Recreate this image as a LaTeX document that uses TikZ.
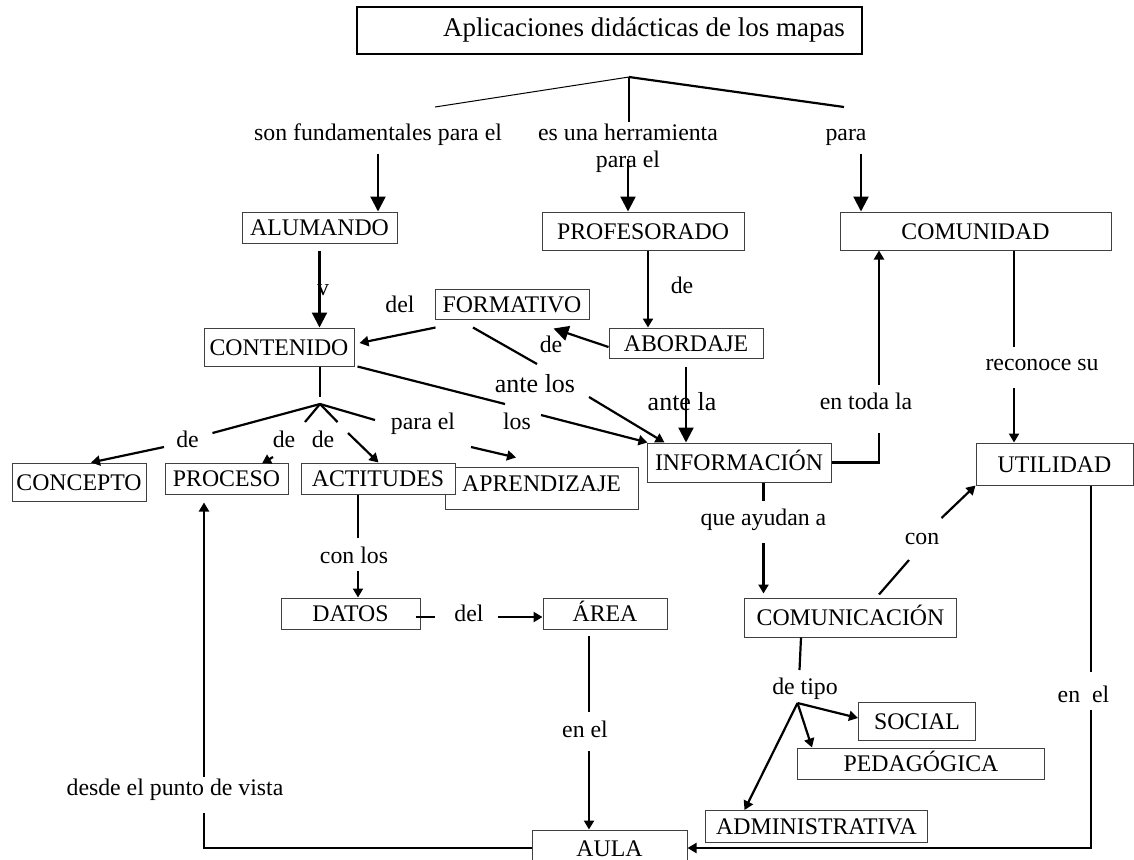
\documentclass[tikz,border=0pt]{standalone}
\usepackage{fontspec}
\setmainfont{Liberation Serif}
\usetikzlibrary{arrows.meta}

\begin{document}
        \begin{tikzpicture}[
            x=0.5pt, y=-0.5pt,
            font=\fontsize{11.9}{13.5}\selectfont,
            caja/.style 2 args={draw=black!75, line width=0.5pt, fill=white, inner sep=0pt,
                text height=8pt, text depth=0pt,
                minimum width=#1*0.5pt, minimum height=#2*0.5pt},
            etiqueta/.style={inner sep=1pt, text height=8pt, text depth=2.5pt},
            grande/.style={font=\fontsize{13}{15}\selectfont},
            linea/.style={line width=1.1pt},
            flecha/.style={linea, -{Triangle[length=4.5pt, width=5pt]}},
            flechag/.style={linea, -{Triangle[length=7.5pt, width=7.5pt]}}
        ]
            \useasboundingbox (0,0) rectangle (1134,859);

            \node[caja={505}{47}, draw=black, line width=1pt] (titulo) at (609.5,30.5) {};
            \node[font=\fontsize{13.5}{16}\selectfont] (tituloTxt) at (644,30) {Aplicaciones didácticas de los mapas};

            \node[caja={155}{31}] (alumnado) at (319.5,227.5) {ALUMANDO};
            \node[caja={202}{38}] (profesorado) at (643,231) {PROFESORADO};
            \node[caja={271}{38}] (comunidad) at (975.5,231) {COMUNIDAD};
            \node[caja={154}{30}] (formativo) at (512,304) {FORMATIVO};
            \node[caja={150}{38}] (contenido) at (279,347) {CONTENIDO};
            \node[caja={154}{30}] (abordaje) at (686,343) {ABORDAJE};
            \node[caja={184}{39}] (informacion) at (739,462.5) {INFORMACIÓN};
            \node[caja={157}{42}] (utilidad) at (1054.5,464) {UTILIDAD};
            \node[caja={134}{38}] (concepto) at (79,482) {CONCEPTO};
            \node[caja={123}{31}] (proceso) at (226.5,478.5) {PROCESO};
            \node[caja={193}{42}, text depth=5pt] (aprendizaje) at (541.5,488) {APRENDIZAJE};
            \node[caja={154}{31}] (actitudes) at (378,478.5) {ACTITUDES};
            \node[caja={139}{31}] (datos) at (350.5,613.5) {DATOS};
            \node[caja={124}{31}] (area) at (605,613.5) {ÁREA};
            \node[caja={212}{39}] (comunicacion) at (850.5,617.5) {COMUNICACIÓN};
            \node[caja={117}{38}] (social) at (917,721) {SOCIAL};
            \node[caja={247}{31}] (pedagogica) at (921,763.5) {PEDAGÓGICA};
            \node[caja={222}{32}] (administrativa) at (816.5,826.5) {ADMINISTRATIVA};
            \node[caja={155}{36}] (aula) at (609.5,848) {AULA};

            \node[etiqueta] (lSon) at (378,135) {son fundamentales para el};
            \node[inner sep=1pt, align=center] (lHerr) at (628,148.5) {es una herramienta\\para el};
            \node[etiqueta] (lPara) at (846,135) {para};
            \node[etiqueta] (lY) at (323,290) {v};
            \node[etiqueta] (lDeProf) at (682,288) {de};
            \node[etiqueta] (lDel) at (400,307) {del};
            \node[etiqueta] (lDeAb) at (551,347) {de};
            \node[etiqueta, grande] (lAnteLos) at (535,387) {ante los};
            \node[etiqueta, grande] (lAnteLa) at (682,405) {ante la};
            \node[etiqueta] (lLos) at (517,424) {los};
            \node[etiqueta] (lDe1) at (187.5,442) {de};
            \node[etiqueta] (lDe2) at (284,442) {de};
            \node[etiqueta] (lDe3) at (323,442) {de};
            \node[etiqueta] (lParaEl) at (423,424) {para el};
            \node[etiqueta] (lEnToda) at (866,404) {en toda la};
            \node[etiqueta] (lReconoce) at (1042,365) {reconoce su};
            \node[etiqueta] (lQue) at (763.5,520) {que ayudan a};
            \node[etiqueta] (lCon) at (922,539) {con};
            \node[etiqueta] (lConLos) at (354,558) {con los};
            \node[etiqueta] (lDelDatos) at (469,616) {del};
            \node[etiqueta] (lEnEl) at (585,732) {en el};
            \node[etiqueta] (lDeTipo) at (805,689) {de tipo};
            \node[etiqueta] (lEnEl2) at (1083.5,697) {en\ \ el};
            \node[etiqueta] (lDesde) at (175,790) {desde el punto de vista};

            \coordinate (rama) at (629,77);
            \coordinate (ramaI) at (435,107);
            \coordinate (ramaD) at (844,107);
            \draw[line width=0.5pt] (rama) -- (ramaI);
            \draw[linea] (rama) -- (ramaD);
            \draw[linea] (rama) -- (rama |- lHerr.north);

            \draw[flechag, shorten <=3pt] (lSon.south) -- (lSon |- alumnado.north);
            \draw[flechag] ([yshift=-5pt]lHerr.center) -- (lHerr |- profesorado.north);
            \coordinate (cPara) at ([xshift=7.5pt]lPara.south);
            \draw[flechag, shorten <=3pt] (cPara) -- (cPara |- comunidad.north);

            \draw[flechag, shorten <=3.5pt] (alumnado.south) -- (alumnado.south |- contenido.north);
            \coordinate (cProf) at ([xshift=2.5pt]profesorado.south);
            \draw[flecha] (cProf) -- (cProf |- abordaje.north);
            \draw[flechag] ([yshift=-2pt]abordaje.west) -- ([shift={(-36,9)}]formativo.south east);
            \draw[flecha] ([shift={(1,8)}]formativo.south west) -- ([shift={(5,-4)}]contenido.east);

            \draw[linea] ([shift={(-39,8)}]formativo.south) -- ([shift={(2,-23)}]lAnteLos.center);
            \draw[flecha] ([shift={(54,10)}]lAnteLos.center) -- ([shift={(18,0)}]informacion.north west);
            \draw[linea] ([shift={(3,0)}]contenido.south east) -- ([shift={(-12,-20)}]lLos.center);
            \draw[flecha] ([shift={(24,-9)}]lLos.center) -- ([shift={(1,0)}]informacion.north west);
            \draw[flechag, shorten <=4pt] (abordaje.south) -- (abordaje.south |- informacion.north);

            \coordinate (cToda) at ([xshift=6.5pt]lEnToda.center);
            \draw[linea] (informacion.east) -| ([yshift=-14.5pt]cToda);
            \draw[flecha] ([yshift=9.5pt]cToda) -- (cToda |- comunidad.south);
            \coordinate (cRec) at ([xshift=19.25pt]comunidad.south);
            \draw[linea] (cRec) -- ++(0,96);
            \draw[flecha, shorten <=5pt] (cRec |- lReconoce.south) -- (cRec |- utilidad.north);

            \draw[linea] ([xshift=12.25pt]informacion.south) -- ++(0,18);
            \draw[flecha, shorten <=5pt, shorten >=2pt] (lQue.south) -- (lQue |- comunicacion.north);
            \draw[linea] ([shift={(28.5,-3)}]comunicacion.north) -- ([shift={(-13,21)}]lCon.center);
            \draw[flecha] ([shift={(19.5,-21)}]lCon.center) -- (utilidad.south west);
            \coordinate (cUtil) at ([xshift=18.25pt]utilidad.south);
            \draw[linea, shorten >=6pt] (cUtil) -- (cUtil |- lEnEl2.north);
            \draw[flecha] (cUtil |- lEnEl2.south) -- (cUtil |- aula.east) -- (aula.east);

            \coordinate (rama2) at (320,404);
            \draw[linea, shorten >=3.5pt] ([xshift=20.5pt]contenido.south) -- (rama2);
            \draw[linea] (rama2) -- ([shift={(25,-9)}]lDe1.center);
            \draw[linea] (rama2) -- ++(-15,18);
            \draw[linea] (rama2) -- ++(17.5,18);
            \draw[linea] (rama2) -- ([shift={(-48,-4)}]lParaEl.center);
            \draw[flecha] ([shift={(-23.5,5)}]lDe1.center) -- ([shift={(12,0)}]concepto.north);
            \draw[flecha] ([shift={(-11,15)}]lDe2.center) -- ([shift={(35.5,1)}]proceso.north);
            \draw[flecha] ([shift={(25,-9)}]lDe3.center) -- ([shift={(0.5,0)}]actitudes.north);
            \draw[flecha] ([shift={(48,23)}]lParaEl.center) -- ([shift={(-25.5,-9)}]aprendizaje.north);

            \coordinate (cAct) at ([xshift=-10pt]actitudes.south);
            \draw[linea, shorten >=3.5pt] (cAct) -- (cAct |- lConLos.north);
            \draw[flecha] (cAct |- lConLos.south) -- (cAct |- datos.north);
            \draw[linea] ([shift={(-5,3.5)}]datos.east) -- ([shift={(-34,1)}]lDelDatos.center);
            \draw[flecha] ([shift={(28.5,1)}]lDelDatos.center) -- ([yshift=-1.75pt]area.west);
            \coordinate (cArea) at ([xshift=-8pt]area.south);
            \draw[linea, shorten <=3pt, shorten >=3.5pt] (cArea) -- (cArea |- lEnEl.north);
            \draw[flecha, shorten <=3pt] (cArea |- lEnEl.south) -- (cArea |- aula.north);

            \draw[linea] ([xshift=-24.75pt]comunicacion.south) -- ([shift={(-5.5,-19)}]lDeTipo.center);
            \coordinate (rama3) at ([shift={(-7.5,14)}]lDeTipo.center);
            \draw[flecha] (rama3) -- ([shift={(0,-3)}]social.west);
            \draw[flecha] (rama3) -- ([shift={(-109,0)}]pedagogica.north);
            \draw[flecha] (rama3) -- ([shift={(-72,0)}]administrativa.north);

            \coordinate (cProc) at ([shift={(-22.5,8)}]proceso.south);
            \draw[linea, shorten >=5pt] (aula.west) -| (cProc |- lDesde.south);
            \draw[flecha] (cProc |- lDesde.north) -- (cProc);
        \end{tikzpicture}
\end{document}
